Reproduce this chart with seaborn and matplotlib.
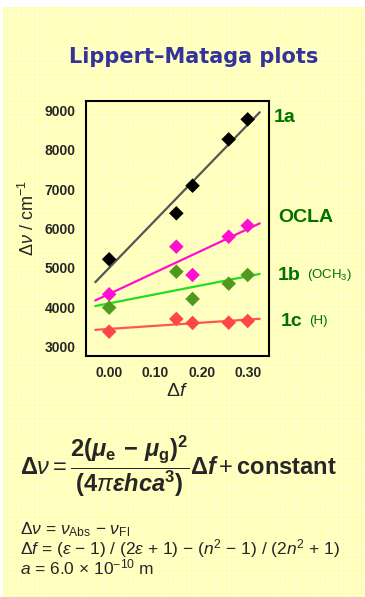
import numpy as np
import pandas as pd
import matplotlib
matplotlib.use("Agg")
import matplotlib.pyplot as plt
import seaborn as sns

# solvent polarity parameter and Stokes shifts (cm-1)
delta_f = [0.0, 0.145, 0.180, 0.258, 0.299]
shift_1a = [5220, 6385, 7084, 8258, 8765]
shift_ocla = [4334, 5540, 4823, 5793, 6071]
shift_1b = [3995, 4906, 4215, 4603, 4823]
shift_1c = [3387, 3709, 3608, 3615, 3658]

series_names = ["1a", "OCLA", "1b", "1c"]
marker_colors = ["#000000", "#ff10d0", "#4f9a1e", "#ff4646"]
line_colors = ["#555555", "#ff10d0", "#22dd22", "#ff5555"]
fit_range = [-0.03, 0.325]

sns.set_style("white")
plt.rcParams["font.family"] = ["Liberation Sans", "DejaVu Sans"]
plt.rcParams["mathtext.fontset"] = "custom"
plt.rcParams["mathtext.rm"] = "Liberation Sans"
plt.rcParams["mathtext.it"] = "Liberation Sans:italic"
plt.rcParams["mathtext.bf"] = "Liberation Sans:bold"
plt.rcParams["mathtext.bfit"] = "Liberation Sans:italic:bold"

W, H = 365, 597
fig = plt.figure(figsize=(W / 100, H / 100), dpi=100, facecolor="white")

# yellow graph-paper background
bg = fig.add_axes([3 / W, 0, 1 - 3 / W, 1 - 7 / H])
bg.set_facecolor("#ffffcc")
bg.set_xlim(0, W - 3)
bg.set_ylim(0, H - 7)
bg.set_xticks(np.arange(0, W, 4.5))
bg.set_yticks(np.arange(0, H, 4.5))
bg.grid(True, color="#ffffa0", lw=0.5)
bg.tick_params(length=0, labelbottom=False, labelleft=False)
for s in bg.spines.values():
    s.set_visible(False)

# main plot
ax = fig.add_axes([86 / W, 1 - 356 / H, 183 / W, 255 / H])
ax.patch.set_alpha(0)

df = pd.DataFrame({
    "df": delta_f * 4,
    "shift": shift_1a + shift_ocla + shift_1b + shift_1c,
    "series": sum([[n] * len(delta_f) for n in series_names], []),
})

xs = np.array(fit_range)
for name, lc in zip(series_names, line_colors):
    sub = df[df["series"] == name]
    k, b = np.polyfit(sub["df"], sub["shift"], 1)
    sns.lineplot(x=xs, y=k * xs + b, color=lc, lw=1.6, ax=ax, zorder=2)

sns.scatterplot(data=df, x="df", y="shift", hue="series", palette=marker_colors,
                hue_order=series_names, marker="D", s=55, linewidth=0,
                legend=False, ax=ax, zorder=3)

ax.set_xlim(-0.05, 0.345)
ax.set_ylim(2770, 9230)
ax.set_xticks([0.0, 0.1, 0.2, 0.3])
ax.set_xticks(np.arange(0.0, 0.35, 0.05), minor=True)
ax.set_xticklabels(["0.00", "0.10", "0.20", "0.30"])
ax.set_yticks(range(3000, 9001, 1000))
for s in ax.spines.values():
    s.set_linewidth(1.5)
    s.set_color("black")
ax.tick_params(axis="both", which="both", direction="out", width=1.5, length=4,
               labelsize=10)
ax.tick_params(axis="x", which="minor", length=4)
for lab in ax.get_xticklabels() + ax.get_yticklabels():
    lab.set_fontweight("bold")
ax.set_xlabel(r"$\Delta f$", fontsize=14, labelpad=2)
ax.set_ylabel(r"$\Delta\nu$ / cm$^{-1}$", fontsize=13)
ax.yaxis.set_label_coords(-0.265, 0.54)

# title
fig.text(194 / W, 1 - 57 / H, "Lippert\u2013Mataga plots", ha="center", va="center",
         fontsize=15, fontweight="bold", color="#333399", family="DejaVu Sans")

# series labels
green = "#007000"
fig.text(274 / W, 1 - 117 / H, "1a", fontsize=14, fontweight="bold", color=green, va="center")
fig.text(278 / W, 1 - 218 / H, "OCLA", fontsize=14, fontweight="bold", color=green, va="center")
fig.text(278 / W, 1 - 275 / H, "1b", fontsize=14, fontweight="bold", color=green, va="center")
fig.text(307 / W, 1 - 275 / H, r"(OCH$_3$)", fontsize=9.5, color=green, va="center")
fig.text(281 / W, 1 - 321 / H, "1c", fontsize=14, fontweight="bold", color=green, va="center")
fig.text(309 / W, 1 - 321 / H, "(H)", fontsize=9.5, color=green, va="center")

# Lippert-Mataga equation
eq = (r"$\mathbf{\Delta}\nu = \dfrac{\mathbf{2(}\mathbfit{\mu}_\mathbf{e}\mathbf{\,-\,}"
      r"\mathbfit{\mu}_\mathbf{g}\mathbf{)}^\mathbf{2}}"
      r"{\mathbf{(4}\pi\mathbfit{\varepsilon hca}^\mathbf{3}\mathbf{)}}"
      r"\mathbf{\Delta}\mathbfit{f} + \mathbf{constant}$")
fig.text(178 / W, 1 - 466 / H, eq, fontsize=17, ha="center", va="center")

notes = "\n".join([
    r"$\Delta\nu$ = $\nu_\mathrm{Abs}$ $-$ $\nu_\mathrm{Fl}$",
    r"$\Delta f$ = ($\varepsilon$ $-$ 1) / (2$\varepsilon$ + 1) $-$ ($n^2$ $-$ 1) / (2$n^2$ + 1)",
    r"$a$ = 6.0 $\times$ 10$^{-10}$ m",
])
fig.text(20 / W, 1 - 577 / H, notes, fontsize=12.5, va="bottom", ha="left",
         linespacing=0.85)

fig.savefig("out.png", dpi=100, facecolor=fig.get_facecolor())
